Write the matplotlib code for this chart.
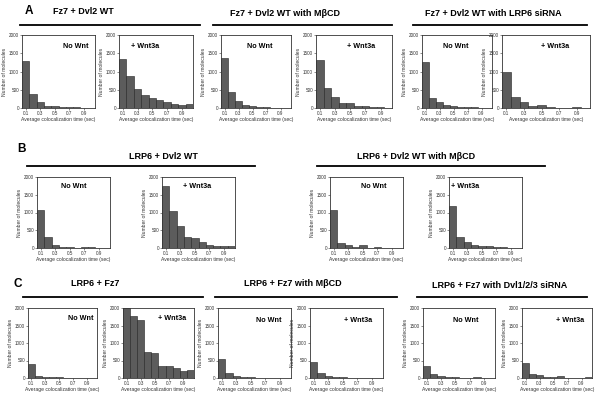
import matplotlib
matplotlib.use("Agg")
import matplotlib.pyplot as plt
from matplotlib.lines import Line2D

plt.rcParams['font.family'] = ['Liberation Sans', 'DejaVu Sans']

# ---- data ----
bin_centers = [0.1, 0.2, 0.3, 0.4, 0.5, 0.6, 0.7, 0.8, 0.9, 1.0]
x_ticks = [0.1, 0.3, 0.5, 0.7, 0.9]
x_tick_labels = ["0.1", "0.3", "0.5", "0.7", "0.9"]
y_ticks = [0, 500, 1000, 1500, 2000]

fz7_dvl2_nownt = [1300, 390, 165, 55, 50, 25, 30, 15, 10, 5]
fz7_dvl2_wnt3a = [1340, 870, 510, 350, 285, 210, 165, 120, 75, 120]
fz7_dvl2_mbcd_nownt = [1370, 440, 200, 90, 55, 25, 15, 10, 5, 5]
fz7_dvl2_mbcd_wnt3a = [1310, 535, 315, 130, 150, 55, 55, 20, 20, 10]
fz7_dvl2_lrp6si_nownt = [1270, 280, 160, 70, 45, 30, 20, 30, 10, 5]
fz7_dvl2_lrp6si_wnt3a = [1000, 310, 165, 55, 90, 20, 10, 10, 15, 5]

lrp6_dvl2_nownt = [1080, 300, 85, 30, 20, 10, 35, 15, 10, 5]
lrp6_dvl2_wnt3a = [1760, 1040, 620, 300, 280, 160, 95, 65, 65, 45]
lrp6_dvl2_mbcd_nownt = [1080, 130, 90, 20, 75, 10, 35, 10, 5, 5]
lrp6_dvl2_mbcd_wnt3a = [1170, 310, 180, 95, 65, 65, 35, 35, 10, 5]

lrp6_fz7_nownt = [390, 65, 30, 30, 15, 10, 5, 5, 5, 5]
lrp6_fz7_wnt3a = [2000, 1765, 1670, 735, 710, 350, 350, 300, 190, 235]
lrp6_fz7_mbcd_nownt = [550, 150, 65, 30, 20, 5, 5, 5, 5, 5]
lrp6_fz7_mbcd_wnt3a = [450, 130, 65, 30, 35, 10, 5, 5, 5, 5]
lrp6_fz7_dvlsi_nownt = [330, 110, 45, 25, 20, 10, 10, 25, 10, 5]
lrp6_fz7_dvlsi_wnt3a = [420, 110, 95, 25, 25, 55, 10, 10, 5, 25]

group_titles = ["Fz7 + Dvl2 WT", "Fz7 + Dvl2 WT with M\u03b2CD", "Fz7 + Dvl2 WT with LRP6 siRNA",
                "LRP6 + Dvl2 WT", "LRP6 + Dvl2 WT with M\u03b2CD",
                "LRP6 + Fz7", "LRP6 + Fz7 with M\u03b2CD", "LRP6 + Fz7 with Dvl1/2/3 siRNA"]
cond_labels = ["No Wnt", "+ Wnt3a"]

W, H = 600, 394
fig = plt.figure(figsize=(W / 100, H / 100), dpi=100)
fig.patch.set_facecolor("white")

# panel layout: (data, x0, x1, ytop, ybot, label, label_x_axesfrac, label_y_axesfrac)
panels = [
    (fz7_dvl2_nownt, 22, 95, 35, 108, cond_labels[0], 0.73, 0.84),
    (fz7_dvl2_wnt3a, 119, 193, 35, 108, cond_labels[1], 0.35, 0.84),
    (fz7_dvl2_mbcd_nownt, 221, 291, 35, 108, cond_labels[0], 0.55, 0.84),
    (fz7_dvl2_mbcd_wnt3a, 316, 392, 35, 108, cond_labels[1], 0.59, 0.84),
    (fz7_dvl2_lrp6si_nownt, 422, 492, 35, 108, cond_labels[0], 0.48, 0.84),
    (fz7_dvl2_lrp6si_wnt3a, 502, 590, 35, 108, cond_labels[1], 0.60, 0.84),
    (lrp6_dvl2_nownt, 37, 110, 177, 248, cond_labels[0], 0.51, 0.86),
    (lrp6_dvl2_wnt3a, 162, 235, 177, 248, cond_labels[1], 0.48, 0.86),
    (lrp6_dvl2_mbcd_nownt, 330, 403, 177, 248, cond_labels[0], 0.60, 0.86),
    (lrp6_dvl2_mbcd_wnt3a, 449, 522, 177, 248, cond_labels[1], 0.22, 0.86),
    (lrp6_fz7_nownt, 28, 97, 308, 378, cond_labels[0], 0.77, 0.85),
    (lrp6_fz7_wnt3a, 123, 194, 308, 378, cond_labels[1], 0.69, 0.85),
    (lrp6_fz7_mbcd_nownt, 218, 291, 308, 378, cond_labels[0], 0.70, 0.82),
    (lrp6_fz7_mbcd_wnt3a, 310, 383, 308, 378, cond_labels[1], 0.66, 0.82),
    (lrp6_fz7_dvlsi_nownt, 423, 495, 308, 378, cond_labels[0], 0.60, 0.82),
    (lrp6_fz7_dvlsi_wnt3a, 522, 592, 308, 378, cond_labels[1], 0.69, 0.82),
]

for data, x0, x1, yt, yb, lab, lx, ly in panels:
    ax = fig.add_axes([x0 / W, 1 - yb / H, (x1 - x0) / W, (yb - yt) / H])
    ax.bar(bin_centers, data, width=0.1, color="#5c5c5c", edgecolor="#222222", linewidth=0.4)
    ax.set_xlim(0.05, 1.05)
    ax.set_ylim(0, 2000)
    ax.set_xticks(x_ticks)
    ax.set_xticklabels(x_tick_labels)
    ax.set_yticks(y_ticks)
    ax.tick_params(labelsize=3.3, length=1.2, width=0.4, pad=1, colors="#333333")
    for s in ax.spines.values():
        s.set_linewidth(0.6)
        s.set_color("#333333")
    ax.set_ylabel("Number of molecules", fontsize=3.6, labelpad=1.5, color="#333333")
    ax.set_xlabel("Average colocalization time (sec)", fontsize=3.6, labelpad=1, color="#333333")
    ax.text(lx, ly, lab, transform=ax.transAxes, ha="center", va="center",
            fontsize=5.2, fontweight="bold")

# group titles and rules: (title index, center x, title y, line x0, line x1, line y)
titles = [
    (0, 83, 12, 20, 200, 25),
    (1, 285, 13, 213, 392, 25),
    (2, 493, 14, 413, 587, 25),
    (3, 163, 156, 27, 255, 166),
    (4, 416, 156, 317, 545, 166),
    (5, 95, 284, 23, 203, 297),
    (6, 293, 284, 215, 397, 297),
    (7, 500, 285, 417, 587, 297),
]
for i, cx, ty, lx0, lx1, ly in titles:
    fig.text(cx / W, 1 - ty / H, group_titles[i], ha="center", va="center",
             fontsize=6.5, fontweight="bold")
    fig.add_artist(Line2D([lx0 / W, lx1 / W], [1 - ly / H, 1 - ly / H],
                          transform=fig.transFigure, color="black", linewidth=1.3))

for letter, cx, cy in [("A", 29, 11), ("B", 21, 149), ("C", 18, 284)]:
    fig.text(cx / W, 1 - cy / H, letter, ha="center", va="center",
             fontsize=8.5, fontweight="bold")

fig.savefig("out.png", dpi=100)
